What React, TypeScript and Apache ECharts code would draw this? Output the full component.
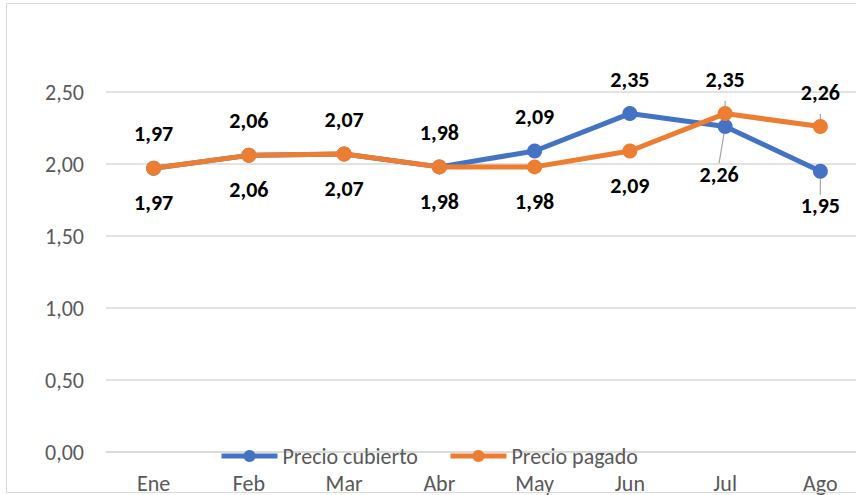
import React, { useEffect, useRef } from "react";
import * as echarts from "echarts";

const categories = ["Ene", "Feb", "Mar", "Abr", "May", "Jun", "Jul", "Ago"];
const precioCubierto = [1.97, 2.06, 2.07, 1.98, 2.09, 2.35, 2.26, 1.95];
const precioPagado = [1.97, 2.06, 2.07, 1.98, 1.98, 2.09, 2.35, 2.26];
// label side per point: true = above
const cubiertoAbove = [true, true, true, true, true, true, false, false];
const pagadoAbove = [false, false, false, false, false, false, true, true];
const leaderIdx = [6, 7];

const FONT = "Carlito, Lato, sans-serif";
const fmt = (v: number) => v.toFixed(2).replace(".", ",");

export default function App() {
  const ref = useRef<HTMLDivElement>(null);
  useEffect(() => {
    if (!ref.current) return;
    const chart = echarts.init(ref.current, undefined, { renderer: "svg" });
    const mkData = (vals: number[], above: boolean[]) =>
      vals.map((v, i) => ({
        value: v,
        label: { position: above[i] ? "top" : "bottom" },
        labelLine: leaderIdx.includes(i)
          ? { show: true, lineStyle: { color: "#a6a6a6", width: 1.2 } }
          : { show: false },
      }));
    const labelCommon = {
      show: true,
      distance: 16,
      color: "#000",
      fontFamily: FONT,
      fontWeight: "bold" as const,
      fontSize: 22,
      formatter: (p: any) => fmt(p.value),
    };
    chart.setOption({
      animation: false,
      backgroundColor: "#fff",
      graphic: [
        {
          type: "rect",
          shape: { x: 6.5, y: 3.5, width: 870, height: 489 },
          style: { fill: "none", stroke: "#d9d9d9", lineWidth: 1 },
          silent: true,
          z: 100,
        },
      ],
      grid: {
        left: 106,
        right: -12,
        top: 92,
        bottom: 43,
        outerBoundsMode: "none",
        containLabel: false,
      },
      legend: {
        left: 214,
        top: 440,
        itemWidth: 56,
        itemHeight: 15,
        itemGap: 30,
        lineStyle: { width: 5 },
        textStyle: { color: "#595959", fontFamily: FONT, fontSize: 22 },
        data: ["Precio cubierto", "Precio pagado"],
      },
      xAxis: {
        type: "category",
        data: categories,
        boundaryGap: true,
        axisLine: { lineStyle: { color: "#d9d9d9", width: 1.5 } },
        axisTick: { show: false },
        axisLabel: {
          color: "#595959",
          fontFamily: FONT,
          fontSize: 22,
          margin: 20,
        },
      },
      yAxis: {
        type: "value",
        min: 0,
        max: 2.5,
        interval: 0.5,
        axisLine: { show: false },
        axisTick: { show: false },
        splitLine: { lineStyle: { color: "#d9d9d9", width: 1.5 } },
        axisLabel: {
          color: "#595959",
          fontFamily: FONT,
          fontSize: 22,
          margin: 22,
          formatter: (v: number) => fmt(v),
        },
      },
      series: [
        {
          name: "Precio cubierto",
          type: "line",
          data: mkData(precioCubierto, cubiertoAbove),
          color: "#4472C4",
          symbol: "circle",
          symbolSize: 15,
          lineStyle: { width: 5, color: "#4472C4" },
          itemStyle: { color: "#4472C4" },
          label: labelCommon,
          labelLayout: (p: any) =>
            p.dataIndex === 6 ? { dx: -6, dy: 13 } : {},
          z: 2,
        },
        {
          name: "Precio pagado",
          type: "line",
          data: mkData(precioPagado, pagadoAbove),
          color: "#ED7D31",
          symbol: "circle",
          symbolSize: 15,
          lineStyle: { width: 5, color: "#ED7D31" },
          itemStyle: { color: "#ED7D31" },
          label: labelCommon,
          z: 3,
        },
      ],
    });
    return () => chart.dispose();
  }, []);
  return <div ref={ref} style={{ width: 856, height: 495, position: "absolute", left: 0, top: 0 }} />;
}
